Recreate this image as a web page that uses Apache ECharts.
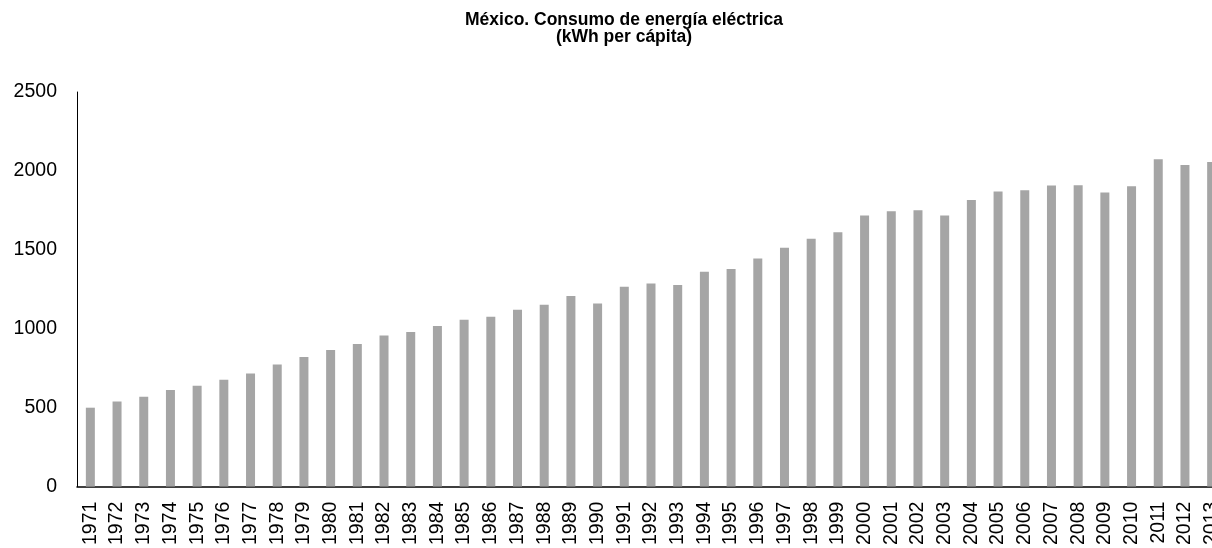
<!DOCTYPE html>
<html>
<head>
<meta charset="utf-8">
<title>México. Consumo de energía eléctrica</title>
<script src="https://cdn.jsdelivr.net/npm/echarts@6/dist/echarts.min.js"></script>
<style>
  html, body { margin: 0; padding: 0; background: #ffffff; overflow: hidden; }
  #chart { width: 1225px; height: 548px; }
</style>
</head>
<body>
<div id="chart"></div>
<script>
// Electricity consumption in Mexico, kWh per capita, 1971–2013
const years = [
  '1971','1972','1973','1974','1975','1976','1977','1978','1979','1980',
  '1981','1982','1983','1984','1985','1986','1987','1988','1989','1990',
  '1991','1992','1993','1994','1995','1996','1997','1998','1999','2000',
  '2001','2002','2003','2004','2005','2006','2007','2008','2009','2010',
  '2011','2012','2013'
];
const kwhPerCapita = [
  500, 540, 570, 612, 639, 677, 717, 774, 821, 865,
  903, 958, 979, 1017, 1057, 1076, 1120, 1152, 1207, 1160,
  1266, 1287, 1278, 1361, 1378, 1445, 1513, 1570, 1612, 1717,
  1745, 1751, 1717, 1816, 1869, 1878, 1907, 1909, 1863, 1903,
  2074, 2038, 2057
];
const yTicks = { min: 0, max: 2500, interval: 500 };

const font = "'Liberation Sans', Arial, sans-serif";
const chart = echarts.init(document.getElementById('chart'), null, { renderer: 'canvas' });

chart.setOption({
  animation: false,
  backgroundColor: '#ffffff',
  title: {
    text: 'México. Consumo de energía eléctrica\n(kWh per cápita)',
    left: 619,
    top: 7,
    textAlign: 'center',
    textStyle: {
      fontFamily: font,
      fontSize: 17.5,
      fontWeight: 'bold',
      color: '#000000',
      lineHeight: 17
    }
  },
  grid: { left: 77, right: 0, top: 92, bottom: 61, containLabel: false },
  xAxis: {
    type: 'category',
    data: years,
    boundaryGap: true,
    axisLine: { show: true, lineStyle: { color: '#000000', width: 1.5 } },
    axisTick: { show: false },
    axisLabel: {
      rotate: 90,
      interval: 0,
      margin: 15,
      fontFamily: font,
      fontSize: 19.5,
      color: '#000000'
    },
    splitLine: { show: false }
  },
  yAxis: {
    type: 'value',
    min: yTicks.min,
    max: yTicks.max,
    interval: yTicks.interval,
    axisLine: { show: true, lineStyle: { color: '#000000', width: 1 } },
    axisTick: { show: false },
    axisLabel: {
      margin: 20,
      fontFamily: font,
      fontSize: 19.5,
      color: '#000000',
      formatter: (v) => String(v)
    },
    splitLine: { show: false }
  },
  series: [{
    type: 'bar',
    data: kwhPerCapita,
    barWidth: 9,
    itemStyle: { color: '#a5a5a5' }
  }]
});
</script>
</body>
</html>
